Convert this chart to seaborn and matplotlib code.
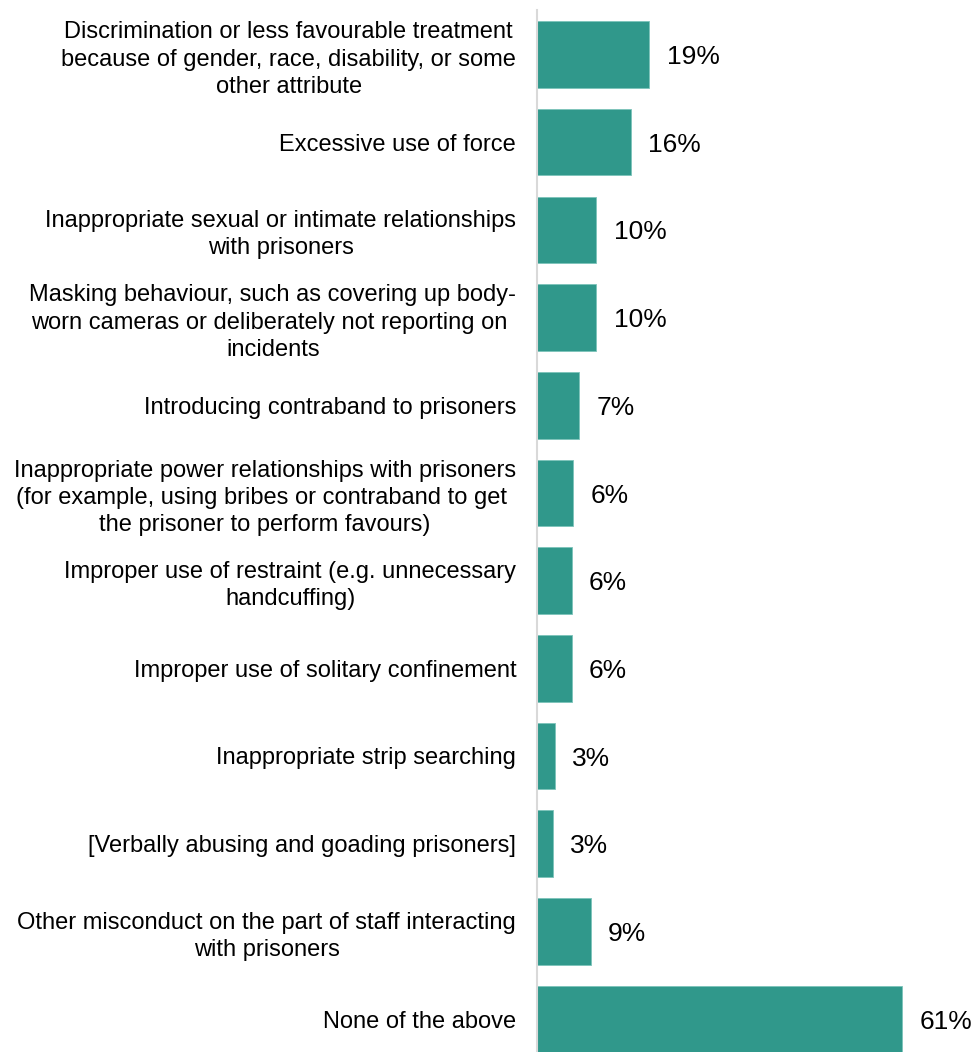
import matplotlib
matplotlib.use("Agg")
import matplotlib.pyplot as plt
import seaborn as sns
import pandas as pd

categories = [
    "Discrimination or less favourable treatment\nbecause of gender, race, disability, or some\nother attribute",
    "Excessive use of force",
    "Inappropriate sexual or intimate relationships\nwith prisoners",
    "Masking behaviour, such as covering up body-\nworn cameras or deliberately not reporting on \nincidents",
    "Introducing contraband to prisoners",
    "Inappropriate power relationships with prisoners\n(for example, using bribes or contraband to get \nthe prisoner to perform favours)",
    "Improper use of restraint (e.g. unnecessary\nhandcuffing)",
    "Improper use of solitary confinement",
    "Inappropriate strip searching",
    "[Verbally abusing and goading prisoners]",
    "Other misconduct on the part of staff interacting\nwith prisoners",
    "None of the above",
]
values = [18.8, 15.7, 9.9, 9.9, 7.0, 6.0, 5.8, 5.8, 3.0, 2.6, 9.0, 61.0]
value_labels = ["19%", "16%", "10%", "10%", "7%", "6%", "6%", "6%", "3%", "3%", "9%", "61%"]

df = pd.DataFrame({"category": categories, "value": values})

sns.set_theme(style="white")
plt.rcParams["font.family"] = ["Liberation Sans", "DejaVu Sans"]

fig = plt.figure(figsize=(9.76, 10.52), dpi=100)
ax = fig.add_axes([537 / 976, 0.0, 1 - 537 / 976, 1 - 10 / 1052])

sns.barplot(data=df, x="value", y="category", orient="h", color="#30988B",
            saturation=1, width=0.76, edgecolor="#7CC3BA", linewidth=0.6, ax=ax)

for i, (v, lab) in enumerate(zip(values, value_labels)):
    ax.text(v + 2.9, i + 0.03, lab, va="center", ha="left", fontsize=19, color="#000000")

ax.set_xlim(0, 73.4)
ax.set_ylim(11.376, -0.507)
ax.set_xlabel("")
ax.set_ylabel("")
ax.set_xticks([])
ax.tick_params(axis="y", length=0, pad=15, labelsize=17, labelcolor="#000000")
for t in ax.get_yticklabels():
    t.set_multialignment("center")
    t.set_linespacing(1.3)
for s in ["top", "right", "bottom"]:
    ax.spines[s].set_visible(False)
ax.spines["left"].set_color("#D9D9D9")
ax.spines["left"].set_linewidth(1.5)

fig.savefig("out.png", dpi=100)
